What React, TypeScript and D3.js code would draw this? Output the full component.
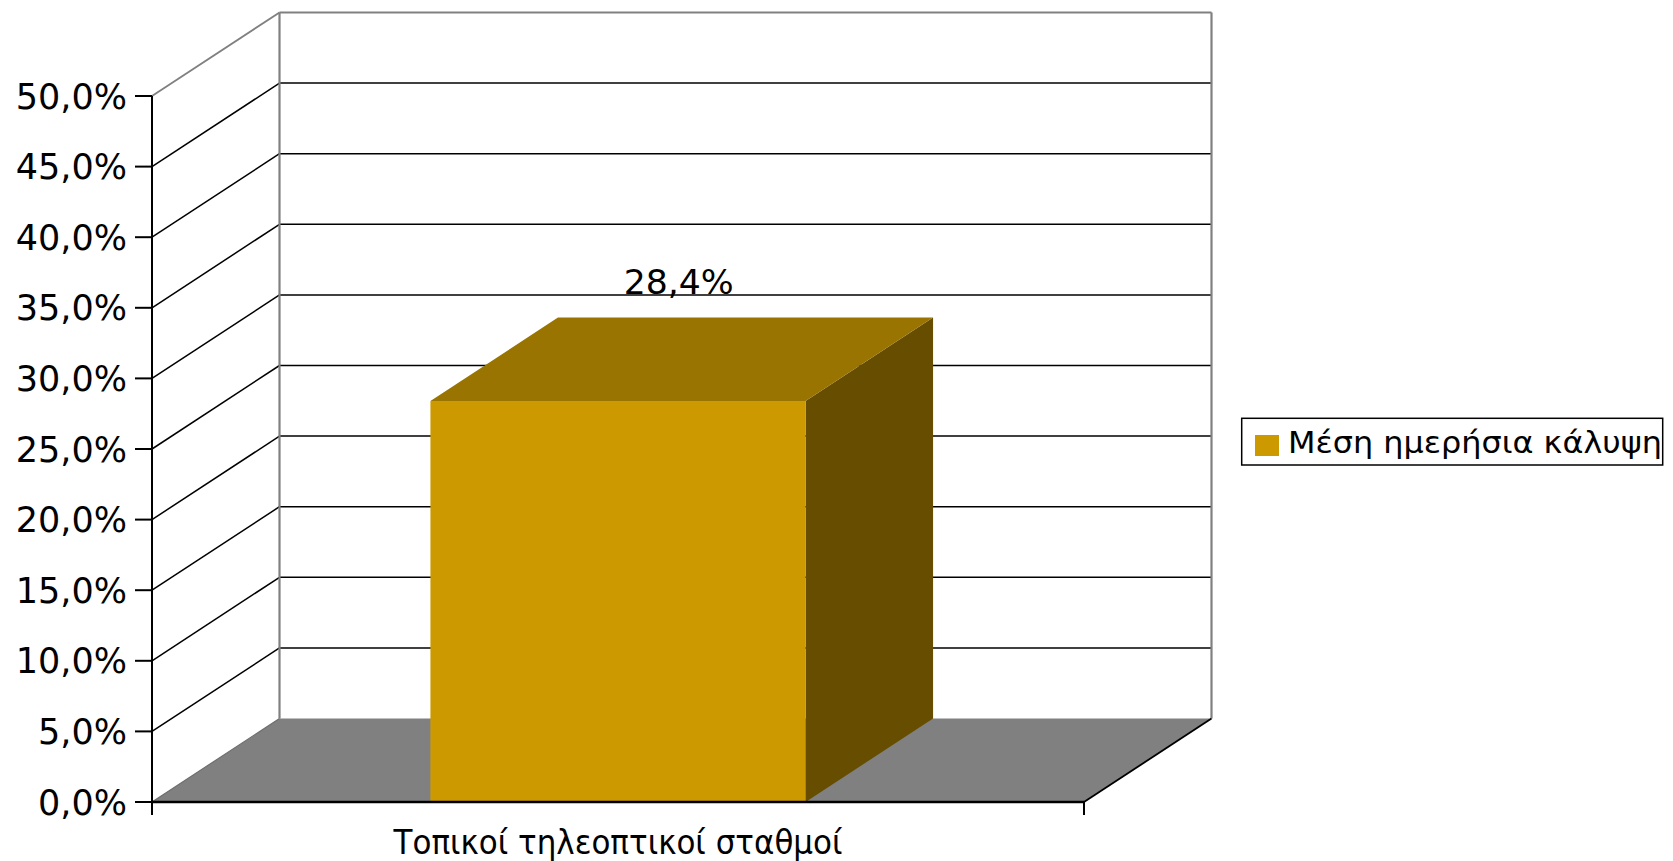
import React from "react";
import * as d3 from "d3";

const categories = ["Τοπικοί τηλεοπτικοί σταθμοί"];
const seriesName = "Μέση ημερήσια κάλυψη";
const values = [0.284];
const valueLabels = ["28,4%"];
const yTicks = [0, 0.05, 0.1, 0.15, 0.2, 0.25, 0.3, 0.35, 0.4, 0.45, 0.5];
const yTickLabels = ["0,0%", "5,0%", "10,0%", "15,0%", "20,0%", "25,0%", "30,0%", "35,0%", "40,0%", "45,0%", "50,0%"];

const W = 1673;
const H = 861;
const X0 = 152;
const X1 = 1084;
const Y0 = 802;
const Y1 = 96;
const DX = 127.5;
const DY = -83.5;
const FONT = "'DejaVu Sans', Verdana, sans-serif";

export default function App() {
  const y = d3.scaleLinear().domain([0, 0.5]).range([Y0, Y1]);
  const x = d3.scaleBand<string>().domain(categories).range([X0, X1]).paddingInner(0.426).paddingOuter(0.426);
  const poly = (pts: [number, number][]) => pts.map((p) => p.join(",")).join(" ");

  return (
    <svg width={W} height={H} style={{ position: "absolute", left: 0, top: 0, background: "#fff" }} fontFamily={FONT}>
      {/* back wall */}
      <rect x={X0 + DX} y={Y1 + DY} width={X1 - X0} height={Y0 - Y1} fill="#fff" />
      {/* back wall gridlines */}
      {yTicks.slice(1, -1).map((t) => (
        <line key={"bg" + t} x1={X0 + DX} x2={X1 + DX} y1={y(t) + DY} y2={y(t) + DY} stroke="#000" strokeWidth={1.5} />
      ))}
      {/* left wall diagonal gridlines */}
      {yTicks.slice(1, -1).map((t) => (
        <line key={"lg" + t} x1={X0} x2={X0 + DX} y1={y(t)} y2={y(t) + DY} stroke="#000" strokeWidth={1.5} />
      ))}
      {/* wall borders */}
      <line x1={X0} y1={y(0.5)} x2={X0 + DX} y2={y(0.5) + DY} stroke="#808080" strokeWidth={1.8} />
      <line x1={X0 + DX} y1={y(0.5) + DY} x2={X1 + DX} y2={y(0.5) + DY} stroke="#808080" strokeWidth={2.2} />
      <line x1={X0 + DX} y1={y(0.5) + DY} x2={X0 + DX} y2={y(0) + DY} stroke="#808080" strokeWidth={2.2} />
      <line x1={X1 + DX} y1={y(0.5) + DY} x2={X1 + DX} y2={y(0) + DY} stroke="#808080" strokeWidth={2.2} />
      {/* floor */}
      <polygon points={poly([[X0, Y0], [X0 + DX, Y0 + DY], [X1 + DX, Y0 + DY], [X1, Y0]])} fill="#808080" />
      <line x1={X0} y1={Y0} x2={X0 + DX} y2={Y0 + DY} stroke="#6e6e6e" strokeWidth={1.2} />
      <line x1={X1} y1={Y0} x2={X1 + DX} y2={Y0 + DY} stroke="#000" strokeWidth={1.8} />
      {/* bars */}
      {categories.map((c, i) => {
        const bx = x(c) as number;
        const bw = x.bandwidth();
        const top = y(values[i]);
        const bottom = y(0);
        return (
          <g key={c}>
            <polygon points={poly([[bx + bw, top], [bx + bw + DX, top + DY], [bx + bw + DX, bottom + DY], [bx + bw, bottom]])} fill="#664d00" />
            <polygon points={poly([[bx, top], [bx + DX, top + DY], [bx + bw + DX, top + DY], [bx + bw, top]])} fill="#997400" />
            <rect x={bx} y={top} width={bw} height={bottom - top} fill="#cc9900" />
            <text x={bx + bw / 2 + DX / 2 - 3} y={top + DY - 23} textAnchor="middle" fontSize={34} fill="#000" textLength={110} lengthAdjust="spacingAndGlyphs">
              {valueLabels[i]}
            </text>
          </g>
        );
      })}
      {/* front axis line */}
      <line x1={X0} y1={Y0} x2={X1} y2={Y0} stroke="#000" strokeWidth={2.4} />
      <line x1={X0} y1={y(0.5)} x2={X0} y2={Y0 + 13} stroke="#000" strokeWidth={2} />
      <line x1={X1} y1={Y0} x2={X1} y2={Y0 + 13} stroke="#000" strokeWidth={2} />
      {yTicks.map((t, i) => (
        <g key={"yt" + t}>
          <line x1={X0 - 17} x2={X0} y1={y(t)} y2={y(t)} stroke="#000" strokeWidth={2} />
          <text x={127} y={y(t)} dy="0.36em" textAnchor="end" fontSize={35} fill="#000">
            {yTickLabels[i]}
          </text>
        </g>
      ))}
      {categories.map((c) => (
        <text key={"cl" + c} x={(X0 + X1) / 2} y={854} textAnchor="middle" fontSize={33} fill="#000" textLength={449} lengthAdjust="spacingAndGlyphs">
          {c}
        </text>
      ))}
      {/* legend */}
      <rect x={1241.7} y={418.3} width={421} height={46.7} fill="#fff" stroke="#000" strokeWidth={1.5} />
      <rect x={1255} y={435} width={24} height={21} fill="#cc9900" />
      <text x={1288} y={453} fontSize={31} fill="#000" textLength={374} lengthAdjust="spacingAndGlyphs">
        {seriesName}
      </text>
    </svg>
  );
}
